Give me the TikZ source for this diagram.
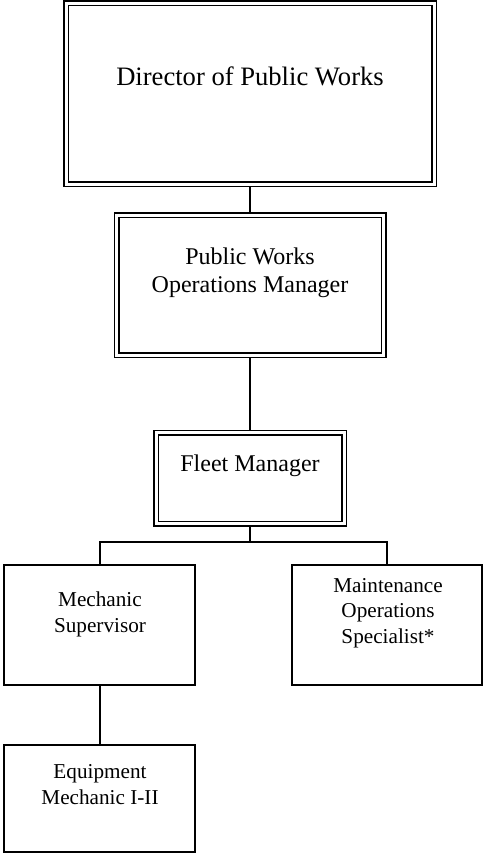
\documentclass[tikz,border=0pt]{standalone}
\usepackage{fontspec}
\setmainfont{Liberation Serif}
\usetikzlibrary{calc}

\begin{document}
\begin{tikzpicture}[x=0.5pt, y=-0.5pt,
    dblbox/.style = {draw, double, line width=0.75pt, double distance=1.5pt, inner sep=0pt, outer sep=1.5pt},
    onebox/.style = {draw, line width=1pt, inner sep=0pt},
    conn/.style = {line width=1pt},
    bigtext/.style = {font=\fontsize{13.3}{16}\selectfont},
    midtext/.style = {align=center, font=\fontsize{12}{14}\selectfont},
    smalltext/.style = {align=center, font=\fontsize{10.6}{12.75}\selectfont}]
    \useasboundingbox (0,0) rectangle (484,854);

    % boxes
    \node [dblbox, minimum width=184pt, minimum height=90.5pt] (director) at (250,94) {};
    \node [dblbox, minimum width=133.5pt, minimum height=70pt] (pwmanager) at (250,285.5) {};
    \node [dblbox, minimum width=94pt, minimum height=45.5pt] (fleet) at (250,478) {};
    \node [onebox, minimum width=95.5pt, minimum height=60pt] (mechsup) at (99.5,625) {};
    \node [onebox, minimum width=95pt, minimum height=60pt] (maint) at (387,625) {};
    \node [onebox, minimum width=95.5pt, minimum height=53.5pt] (equip) at (99.5,798.5) {};

    % titles (base = last line)
    \node [bigtext, anchor=base] (directortitle) at (250,86) {Director of Public Works};
    \node [midtext, anchor=base] (pwtitle) at (250,293) {Public Works\\Operations Manager};
    \node [midtext, anchor=base] (fleettitle) at (250,471) {Fleet Manager};
    \node [smalltext, anchor=base] (mechsuptitle) at (100,632) {Mechanic\\Supervisor};
    \node [smalltext, anchor=base] (mainttitle) at (388,643) {Maintenance\\Operations\\Specialist*};
    \node [smalltext, anchor=base] (equiptitle) at (100,804) {Equipment\\Mechanic I-II};

    % lines
    \coordinate (split) at (250,542);
    \draw [conn] (director.south) -- (pwmanager.north);
    \draw [conn] (pwmanager.south) -- (fleet.north);
    \draw [conn] (fleet.south) -- (split);
    \draw [conn] (mechsup.north) |- (split) -| (maint.north);
    \draw [conn] (mechsup.south) -- (equip.north);
\end{tikzpicture}
\end{document}
